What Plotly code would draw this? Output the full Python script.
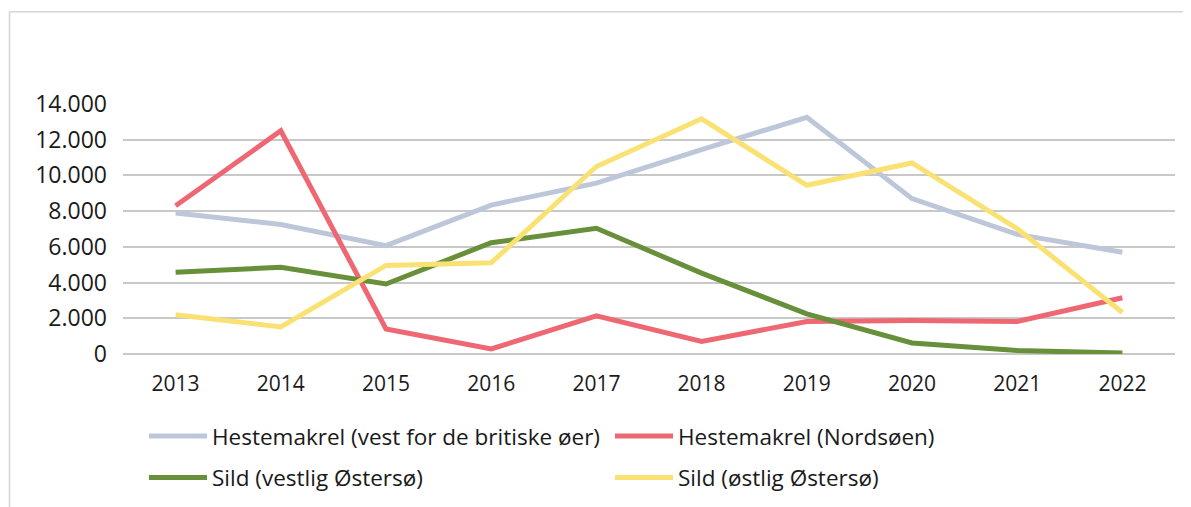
import plotly.graph_objects as go

years = ["2013", "2014", "2015", "2016", "2017", "2018", "2019", "2020", "2021", "2022"]
hestemakrel_vest = [7900, 7250, 6070, 8340, 9570, 11450, 13250, 8700, 6700, 5700]
hestemakrel_nord = [8300, 12500, 1400, 280, 2140, 700, 1820, 1880, 1820, 3150]
sild_vestlig = [4580, 4860, 3920, 6230, 7040, 4530, 2250, 620, 200, 50]
sild_ostlig = [2200, 1520, 4960, 5110, 10500, 13170, 9450, 10700, 7020, 2320]
y_ticks = [0, 2000, 4000, 6000, 8000, 10000, 12000, 14000]

names = [
    "Hestemakrel (vest for de britiske øer)",
    "Hestemakrel (Nordsøen)",
    "Sild (vestlig Østersø)",
    "Sild (østlig Østersø)",
]
colors = ["#BEC7DA", "#EE6874", "#688F3A", "#F9E273"]
series = [hestemakrel_vest, hestemakrel_nord, sild_vestlig, sild_ostlig]
legend_ids = ["legend", "legend", "legend2", "legend2"]

FONT = "Open Sans"
TXT = "#1a1a1a"

# The page places the figure 8px in from the top-left corner (default body margin),
# so layout pixel values below are expressed relative to that offset.
OFF = 8
PLOT_L, PLOT_R, PLOT_T, PLOT_B = 123 - OFF, 1175 - OFF, 103.5 - OFF, 354.3 - OFF
W, H = 1191, 507
PW, PH = PLOT_R - PLOT_L, PLOT_B - PLOT_T


def px_to_paper_x(px):
    return (px - OFF - PLOT_L) / PW


def px_to_paper_y(py):
    return (PLOT_B - (py - OFF)) / PH


fig = go.Figure()
for name, col, vals, lg in zip(names, colors, series, legend_ids):
    fig.add_trace(go.Scatter(
        x=years, y=vals, mode="lines", name=name,
        line=dict(color=col, width=5),
        legend=lg,
    ))

legend_common = dict(
    orientation="h",
    xanchor="left",
    yanchor="middle",
    font=dict(family=FONT, size=22.5, color=TXT),
    entrywidth=393,
    entrywidthmode="pixels",
    itemwidth=58,
    bgcolor="rgba(0,0,0,0)",
)

fig.update_layout(
    width=W, height=H,
    margin=dict(l=PLOT_L, r=W - PLOT_R, t=PLOT_T, b=H - PLOT_B, autoexpand=False),
    paper_bgcolor="white",
    plot_bgcolor="white",
    separators=",.",
    font=dict(family=FONT, size=21, color=TXT),
    legend=dict(x=px_to_paper_x(144), y=px_to_paper_y(437), **legend_common),
    legend2=dict(x=px_to_paper_x(144), y=px_to_paper_y(478.5), **legend_common),
    xaxis=dict(
        type="category",
        range=[-0.5, 9.5],
        showgrid=False,
        showline=False,
        ticks="",
        automargin=False,
        ticklabelstandoff=15,
        tickfont=dict(family=FONT, size=21, color=TXT),
    ),
    yaxis=dict(
        range=[0, 14000],
        tickvals=y_ticks,
        tickformat=",d",
        showgrid=True,
        gridcolor="#C8C8C8",
        gridwidth=2,
        zeroline=True,
        zerolinecolor="#C8C8C8",
        zerolinewidth=2,
        showline=False,
        ticks="",
        automargin=False,
        ticklabelstandoff=15,
        tickfont=dict(family=FONT, size=23, color=TXT),
    ),
    shapes=[
        dict(type="line", xref="paper", yref="paper",
             x0=px_to_paper_x(9.5), x1=1.2, y0=px_to_paper_y(11), y1=px_to_paper_y(11),
             line=dict(color="#D4D4D4", width=1.5)),
        dict(type="line", xref="paper", yref="paper",
             x0=px_to_paper_x(9.5), x1=px_to_paper_x(9.5), y0=px_to_paper_y(11), y1=-1,
             line=dict(color="#D4D4D4", width=1.5)),
    ],
)

fig.write_html("out.html")
